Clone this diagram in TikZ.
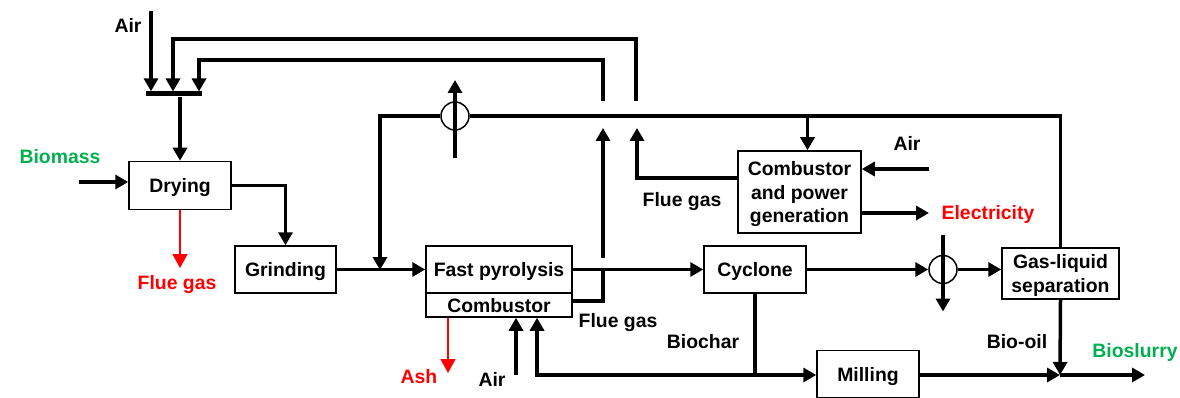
\documentclass[tikz,border=0pt]{standalone}
\usepackage{fontspec}
\setmainfont{Liberation Sans}
\usetikzlibrary{arrows, arrows.meta}
\usetikzlibrary{positioning}
\definecolor{gruen}{RGB}{0,176,80}
\tikzset{
  box/.style={draw, line width=1.5pt, inner sep=0pt, align=center, text depth=0pt,
    font=\bfseries\fontsize{19.4}{23.5}\selectfont},
  lbl/.style={inner sep=0pt, font=\bfseries\fontsize{19.4}{23.5}\selectfont},
  flow/.style={line width=3.5pt, -{Triangle[length=13pt,width=14pt]}},
  pipe/.style={line width=3.5pt},
  rot/.style={line width=1.5pt, red, -{Triangle[length=14pt,width=15pt]}},
  split/.style={draw, circle, line width=1.5pt, minimum size=28pt, inner sep=0pt},
}
\begin{document}
\begin{tikzpicture}[x=1pt, y=-1pt]
\useasboundingbox (0,0) rectangle (1180,398);
% Bloecke
\node[box, minimum width=102pt, minimum height=48pt] (dry) at (180,185.5) {Drying};
\node[box, minimum width=101pt, minimum height=47pt] (grind) at (285.5,269.5) {Grinding};
\node[box, minimum width=146pt, minimum height=47pt] (pyro) at (499,269.5) {Fast pyrolysis};
\node[box, minimum width=146pt, minimum height=24pt] (comb) at (499,305) {Combustor};
\node[box, minimum width=102pt, minimum height=47pt] (cyc) at (755,269.5) {Cyclone};
\node[box, minimum width=123pt, minimum height=82pt] (cpg) at (799.5,192) {Combustor\\and power\\generation};
\node[box, minimum width=117pt, minimum height=51pt] (gls) at (1060.5,273.5) {Gas-liquid\\separation};
\node[box, minimum width=102pt, minimum height=47pt] (mill) at (868,374) {Milling};
\node[split] (spl1) at (455,116) {};
\node[split] (spl2) at (943,269.5) {};
\node[fill, minimum width=56pt, minimum height=5pt, inner sep=0pt] (mix) at (174,94) {};
% Hilfspunkte
\coordinate (airtop) at (151,11);
\coordinate (r1) at (603,101);
\coordinate (r2) at (636,101);
\coordinate (fg1) at (603,128);
\coordinate (fg2) at (637,128);
\coordinate (bm) at (79,182);
\coordinate (j1) at (380,270);
\coordinate (aircpg) at (929,169);
\coordinate (el) at (929,213);
\coordinate (bs) at (1060,375);
\coordinate (bc) at (756,375);
\coordinate (ash) at (448,373);
\coordinate (aircomb) at (516,375);
% Beschriftungen
\node[lbl] (tAir1) at (128,25) {Air};
\node[lbl, text=gruen] (tBio) at (60,157) {Biomass};
\node[lbl, text=red] (tFg1) at (177,285) {Flue gas};
\node[lbl, text=red] (tAsh) at (419,377) {Ash};
\node[lbl] (tAir2) at (492,379) {Air};
\node[lbl] (tFg2) at (618,323) {Flue gas};
\node[lbl] (tChar) at (703,342) {Biochar};
\node[lbl] (tFg3) at (682,202) {Flue gas};
\node[lbl] (tAir3) at (907,143) {Air};
\node[lbl, text=red] (tEl) at (988,214) {Electricity};
\node[lbl] (tOil) at (1017,342) {Bio-oil};
\node[lbl, text=gruen] (tSl) at (1135,352) {Bioslurry};
% Stroeme
\draw[flow] (airtop) -- (airtop |- mix.north); %Luft
\draw[flow] (r2) -- (636,39) -- (173,39) -- (173,91.5); %Rauchgas 2
\draw[flow] (r1) -- (603,60) -- (199,60) -- (199,91.5); %Rauchgas 1
\draw[flow] (dry.north |- mix.south) -- (dry.north);
\draw[flow] (bm) -- (bm -| dry.west);
\draw[flow] (dry.east) -| (grind.north);
\draw[rot] (dry.south) -- (180,268);
\draw[flow] (grind.east) -- (pyro.west);
\draw[pipe] (gls.north) |- (spl1.east); %Gas zurueck
\draw[flow] (spl1.west) -| (j1);
\draw[flow] ([yshift=-42pt]spl1.center) -- ([yshift=36pt]spl1.center); %Purge
\draw[flow] ([xshift=8pt]cpg.north |- spl1) -- ([xshift=8pt]cpg.north);
\draw[flow] (pyro.east) -- (cyc.west);
\draw[pipe] ([yshift=4pt]comb.east) -| (603,270);
\draw[flow] (603,258) -- (fg1);
\draw[flow] ([yshift=14pt]cpg.west) -| (fg2);
\draw[flow] (aircpg) -- (aircpg -| cpg.east);
\draw[flow] (el -| cpg.east) -- (el);
\draw[flow] (cyc.east) -- (spl2.west);
\draw[flow] (spl2.east) -- (spl2 -| gls.west);
\draw[flow] ([yshift=35pt]spl2.center) -- ([yshift=-42pt]spl2.center);
\draw[flow] (gls.south) -- (bs);
\draw[flow] (mill.east |- bs) -- (bs);
\draw[flow] (bs) -- (1145,375);
\draw[pipe] (cyc.south) -- (cyc.south |- bc);
\draw[flow] (bc) -- (mill.west |- bc);
\draw[flow] (bc) -| ([xshift=38pt]comb.south);
\draw[flow] (aircomb) -- (aircomb |- comb.south);
\draw[rot] (ash |- comb.south) -- (ash);
\end{tikzpicture}
\end{document}
